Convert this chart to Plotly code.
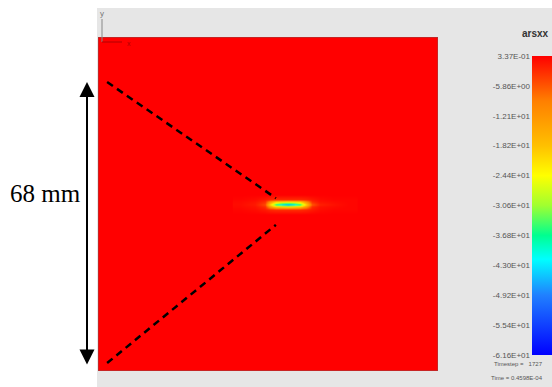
import plotly.graph_objects as go

# plate (mm) and the field value on it
plate_w = 82.0
plate_h = 80.0
far_field = 0.337

# arsxx around the crack (rows = crack_y, cols = crack_x)
crack_x = [34.3, 37.9, 40.3, 41.5, 42.9, 44.4, 45.8, 47.3, 48.7, 50.2, 51.6, 53.5, 57.2, 60.8]
crack_y = [37.6, 38.8, 39.5, 40.0, 40.5, 41.2, 42.4]
crack_z = [
    [0.337] * 14,
    [0, -0.5, -1.5, -2.5, -3, -3, -3, -3, -3, -2.5, -1.5, -0.5, 0, 0],
    [-0.3, -1, -3, -12, -19, -20, -21, -20, -19, -12, -3, -1, -0.4, 0],
    [-0.5, -1.5, -5, -20, -36, -43, -46, -43, -36, -20, -6, -2, -0.8, 0],
    [-0.3, -1, -3, -12, -19, -20, -21, -20, -19, -12, -3, -1, -0.4, 0],
    [0, -0.5, -1.5, -2.5, -3, -3, -3, -3, -3, -2.5, -1.5, -0.5, 0, 0],
    [0.337] * 14,
]

# dashed guide lines from the plate edge to the crack tip
guide_x = [2.2, 42.9]
guide_upper_y = [69.2, 41.4]
guide_lower_y = [1.9, 35.0]

# measured span
span_mm = 68
span_start = 1.2

# colorbar
cbar_min = -61.6
cbar_max = 0.337
cbar_vals = [0.337, -5.86, -12.1, -18.2, -24.4, -30.6, -36.8, -43.0, -49.2, -55.4, -61.6]
cbar_text = ["3.37E-01", "-5.86E+00", "-1.21E+01", "-1.82E+01", "-2.44E+01", "-3.06E+01",
             "-3.68E+01", "-4.30E+01", "-4.92E+01", "-5.54E+01", "-6.16E+01"]

W, H = 552, 387
sans = "Liberation Sans, Arial, sans-serif"

scale = [
    [0.0, "#0000ff"],
    [0.2, "#2080ff"],
    [0.32, "#00ffff"],
    [0.4, "#00ff90"],
    [0.5, "#a0ff30"],
    [0.6, "#ffff00"],
    [0.7, "#ffc000"],
    [0.85, "#ff7f00"],
    [1.0, "#ff0000"],
]

fig = go.Figure()
fig.add_trace(go.Heatmap(x=[0, plate_w], y=[0, plate_h], z=[[far_field]],
                         coloraxis="coloraxis", hoverinfo="skip"))
fig.add_trace(go.Heatmap(x=crack_x, y=crack_y, z=crack_z, zsmooth="best",
                         coloraxis="coloraxis", hoverinfo="skip"))
for gy in (guide_upper_y, guide_lower_y):
    fig.add_trace(go.Scatter(x=guide_x, y=gy, mode="lines", showlegend=False,
                             line=dict(color="black", width=2.5, dash="7px,5px"),
                             hoverinfo="skip"))
# invisible traces so the helper axes get drawn
fig.add_trace(go.Scatter(x=[0], y=[cbar_max], xaxis="x", yaxis="y2", mode="markers",
                         marker=dict(opacity=0), showlegend=False, hoverinfo="skip"))
fig.add_trace(go.Scatter(x=[87], y=[span_start], xaxis="x2", yaxis="y", mode="markers",
                         marker=dict(opacity=0), showlegend=False, hoverinfo="skip"))

fig.update_layout(
    width=W, height=H,
    margin=dict(l=0, r=0, t=0, b=0, autoexpand=False),
    paper_bgcolor="white",
    plot_bgcolor="rgba(0,0,0,0)",
    showlegend=False,
    xaxis=dict(domain=[98 / W, 438 / W], range=[0, plate_w], visible=False),
    yaxis=dict(domain=[16 / H, 350 / H], range=[0, plate_h], visible=False),
    # left strip in pixel-like units, for the span arrow
    xaxis2=dict(domain=[0, 97 / W], range=[0, 97], visible=False, anchor="y"),
    yaxis2=dict(domain=[32 / H, 331 / H], range=[cbar_min, cbar_max], anchor="free",
                position=530 / W, side="left", tickvals=cbar_vals, ticktext=cbar_text,
                showgrid=False, zeroline=False, showline=False, ticks="",
                tickfont=dict(family=sans, size=8, color="#555555")),
    coloraxis=dict(
        colorscale=scale, cmin=cbar_min, cmax=cbar_max,
        colorbar=dict(x=532 / W, xanchor="left", y=1 - 205.5 / H, yanchor="middle",
                      lenmode="pixels", len=299, thicknessmode="pixels", thickness=20,
                      xpad=0, ypad=0, outlinewidth=0, ticks="", showticklabels=False),
    ),
    shapes=[
        dict(type="rect", xref="paper", yref="paper", x0=97 / W, x1=1, y0=0, y1=1 - 8 / H,
             fillcolor="#e6e6e6", line=dict(width=0), layer="below"),
        dict(type="rect", xref="x", yref="y", x0=0, x1=plate_w, y0=0, y1=plate_h,
             line=dict(color="#904848", width=1), layer="above"),
        dict(type="line", xref="paper", yref="paper", x0=102 / W, x1=102 / W,
             y0=1 - 19 / H, y1=1 - 42 / H, line=dict(color="#888888", width=1)),
        dict(type="line", xref="paper", yref="paper", x0=102 / W, x1=122 / W,
             y0=1 - 42 / H, y1=1 - 42 / H, line=dict(color="#b00000", width=1)),
    ],
    annotations=[
        dict(x=87, y=span_start + span_mm, ax=87, ay=span_start,
             xref="x2", yref="y", axref="x2", ayref="y", text="", showarrow=True,
             arrowhead=2, arrowsize=1.5, arrowwidth=2, arrowcolor="black",
             arrowside="end+start", startarrowhead=2, startarrowsize=1.5),
        dict(x=45 / W, y=1 - 193 / H, xref="paper", yref="paper", text=f"{span_mm} mm",
             showarrow=False, xanchor="center", yanchor="middle",
             font=dict(family="Liberation Serif, Times New Roman, serif", size=25, color="black")),
        dict(x=535 / W, y=1 - 33 / H, xref="paper", yref="paper", text="<b>arsxx</b>",
             showarrow=False, xanchor="center", yanchor="middle",
             font=dict(family=sans, size=10, color="#333333")),
        dict(x=492 / W, y=1 - 364 / H, xref="paper", yref="paper", text="Timestep =   1727",
             showarrow=False, xanchor="left", yanchor="middle",
             font=dict(family=sans, size=6, color="#555555")),
        dict(x=489 / W, y=1 - 378 / H, xref="paper", yref="paper", text="Time = 0.4598E-04",
             showarrow=False, xanchor="left", yanchor="middle",
             font=dict(family=sans, size=6, color="#555555")),
        dict(x=102 / W, y=1 - 14 / H, xref="paper", yref="paper", text="y",
             showarrow=False, xanchor="center", yanchor="middle",
             font=dict(family=sans, size=8, color="#777777")),
        dict(x=129 / W, y=1 - 43 / H, xref="paper", yref="paper", text="x",
             showarrow=False, xanchor="center", yanchor="middle",
             font=dict(family=sans, size=7, color="#b00000")),
    ],
)

# drop the browser's default 8px body margin so the figure sits at the page corner
fig.write_html("out.html", config={"displayModeBar": False},
               post_script="document.body.style.margin = '0px';")
